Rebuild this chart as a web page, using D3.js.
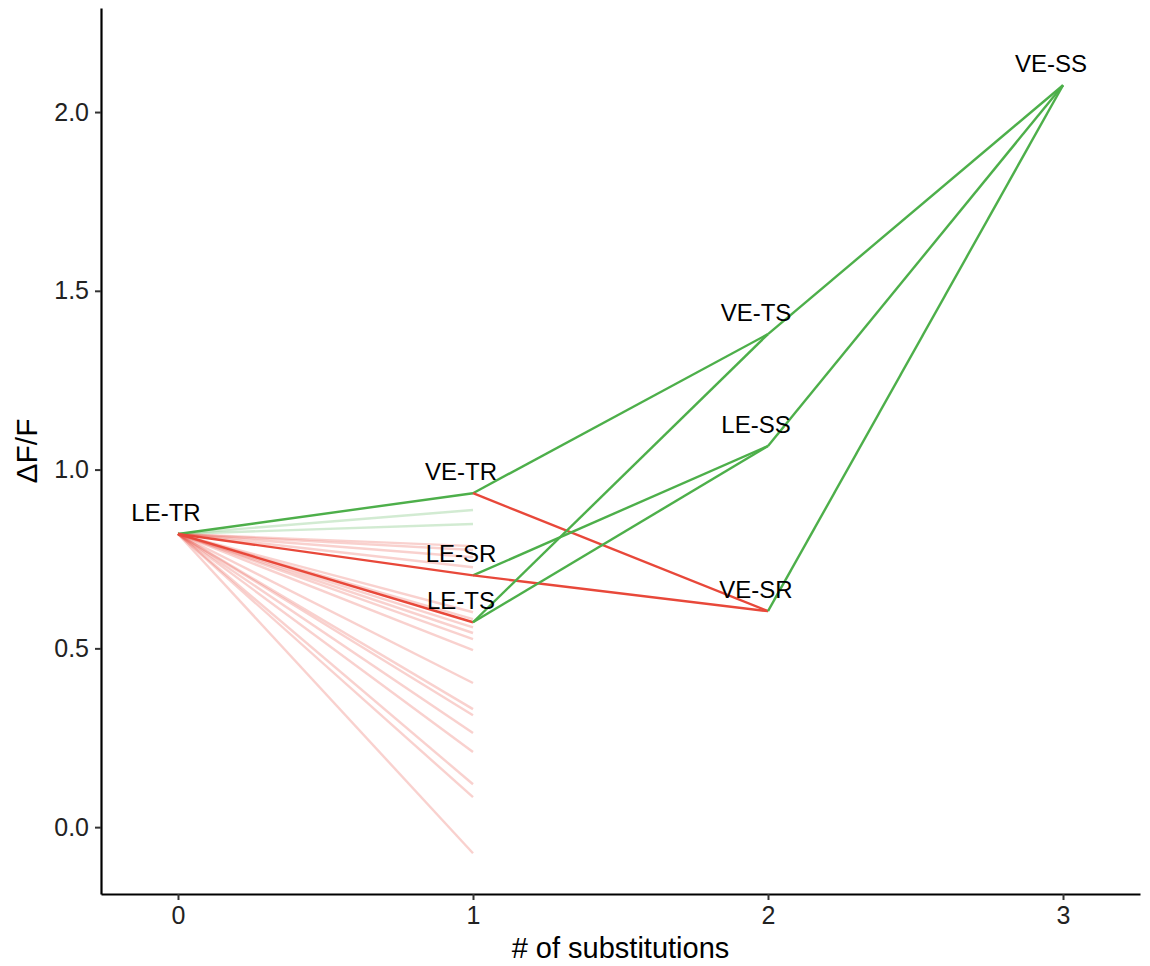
<!DOCTYPE html>
<html>
<head>
<meta charset="utf-8">
<script src="https://cdn.jsdelivr.net/npm/d3@7"></script>
<style>
  body { margin: 0; background: #fff; }
  svg text { font-family: "Liberation Sans", Arial, sans-serif; }
</style>
</head>
<body>
<div id="chart"></div>
<script>
//Colores fijos
const COLOR_GREEN = '#4daf4a',
      COLOR_RED = '#e8483a';

//Nodos principales (nº de sustituciones, ΔF/F)
const nodeNames = ['LE-TR', 'VE-TR', 'LE-SR', 'LE-TS', 'VE-TS', 'LE-SS', 'VE-SR', 'VE-SS'];
const nodeSubs  = [0, 1, 1, 1, 2, 2, 2, 3];
const nodeVals  = [0.82, 0.934, 0.704, 0.573, 1.379, 1.066, 0.604, 2.075];

//Conexiones: [origen, destino, mejora]
const edgeFrom = ['LE-TR', 'LE-TR', 'LE-TR', 'VE-TR', 'VE-TR', 'LE-SR', 'LE-SR', 'LE-TS', 'LE-TS', 'VE-TS', 'LE-SS', 'VE-SR'];
const edgeTo   = ['VE-TR', 'LE-SR', 'LE-TS', 'VE-TS', 'VE-SR', 'LE-SS', 'VE-SR', 'VE-TS', 'LE-SS', 'VE-SS', 'VE-SS', 'VE-SS'];
const edgeUp   = [true, false, false, true, false, true, false, true, true, true, true, true];

//Otras sustituciones simples desde LE-TR (líneas tenues)
const fadedUp   = [0.887, 0.848];
const fadedDown = [0.786, 0.775, 0.755, 0.727, 0.601, 0.582, 0.559, 0.543, 0.526, 0.495,
                   0.403, 0.330, 0.313, 0.263, 0.210, 0.120, 0.084, -0.073];

const xTicks = [0, 1, 2, 3];
const yTicks = [0, 0.5, 1, 1.5, 2];

let margin = {top: 8, right: 10, bottom: 72, left: 101},
    width = 1150 - margin.left - margin.right,
    height = 966 - margin.top - margin.bottom;

let svg = d3.select('#chart')
    .append('svg')
        .attr('width', width + margin.left + margin.right)
        .attr('height', height + margin.top + margin.bottom)
    .append('g')
        .attr('transform', 'translate(' + margin.left + ',' + margin.top + ')');

let x = d3.scaleLinear().domain([-0.261, 3.261]).range([0, 1039]);
let y = d3.scaleLinear().domain([-0.187, 2.291]).range([height, 0]);

let node = {};
nodeNames.forEach(function(n, i) { node[n] = {x: nodeSubs[i], y: nodeVals[i]}; });

//Líneas tenues
let origin = node['LE-TR'];
let faded = fadedUp.map(function(v) { return {v: v, c: COLOR_GREEN}; })
    .concat(fadedDown.map(function(v) { return {v: v, c: COLOR_RED}; }));

svg.selectAll('.faded')
    .data(faded)
    .enter().append('line')
        .attr('class', 'faded')
        .attr('x1', x(origin.x)).attr('y1', y(origin.y))
        .attr('x2', x(1)).attr('y2', function(d) { return y(d.v); })
        .attr('stroke', function(d) { return d.c; })
        .attr('stroke-opacity', 0.25)
        .attr('stroke-width', 2.4);

//Conexiones principales
let edges = edgeFrom.map(function(f, i) { return {a: node[f], b: node[edgeTo[i]], up: edgeUp[i]}; });

svg.selectAll('.edge')
    .data(edges)
    .enter().append('line')
        .attr('class', 'edge')
        .attr('x1', function(d) { return x(d.a.x); })
        .attr('y1', function(d) { return y(d.a.y); })
        .attr('x2', function(d) { return x(d.b.x); })
        .attr('y2', function(d) { return y(d.b.y); })
        .attr('stroke', function(d) { return d.up ? COLOR_GREEN : COLOR_RED; })
        .attr('stroke-width', 2.4);

//Etiquetas
svg.selectAll('.lbl')
    .data(nodeNames)
    .enter().append('text')
        .attr('class', 'lbl')
        .attr('x', function(d) { return x(node[d].x) - 12; })
        .attr('y', function(d) { return y(node[d].y) - 13; })
        .attr('text-anchor', 'middle')
        .attr('font-size', 24)
        .attr('fill', '#000')
        .text(function(d) { return d; });

//Ejes
let xAxis = svg.append('g')
    .attr('transform', 'translate(0,' + height + ')')
    .call(d3.axisBottom(x).tickValues(xTicks).tickFormat(d3.format('d')).tickSize(6).tickSizeOuter(0).tickPadding(6));
let yAxis = svg.append('g')
    .call(d3.axisLeft(y).tickValues(yTicks).tickFormat(d3.format('.1f')).tickSize(6).tickSizeOuter(0).tickPadding(6));

[xAxis, yAxis].forEach(function(a) {
    a.attr('font-size', null);
    a.select('.domain').attr('stroke', '#000').attr('stroke-width', 2.2);
    a.selectAll('.tick line').attr('stroke', '#333').attr('stroke-width', 2);
    a.selectAll('.tick text').attr('fill', '#222')
        .style('font-size', '25px')
        .style('font-family', '"Liberation Sans", Arial, sans-serif');
});

//Títulos de ejes
svg.append('text')
    .attr('x', x(1.5))
    .attr('y', height + 64)
    .attr('text-anchor', 'middle')
    .attr('font-size', 29)
    .text('# of substitutions');

svg.append('text')
    .attr('transform', 'translate(' + (-64) + ',' + (height / 2) + ') rotate(-90)')
    .attr('text-anchor', 'middle')
    .attr('font-size', 30)
    .text('ΔF/F');
</script>
</body>
</html>
